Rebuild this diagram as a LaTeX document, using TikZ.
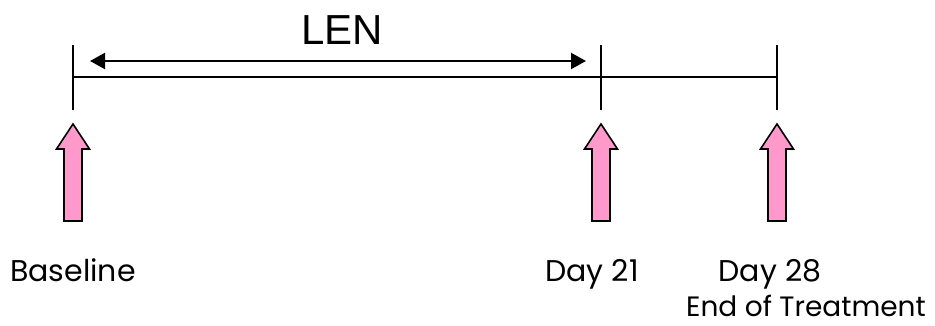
\documentclass[tikz,border=0pt]{standalone}
\usepackage{fontspec}
\setmainfont{Poppins}
\newfontfamily\arialfont{Liberation Sans}
\usetikzlibrary{arrows.meta}
\definecolor{pinkfill}{RGB}{255,153,204}
\begin{document}
\begin{tikzpicture}[x=1pt,y=-1pt,
  tl/.style={line width=1.6pt},
  lenarrow/.style={line width=2.2pt,{Triangle[length=15pt,width=16pt]}-{Triangle[length=15pt,width=16pt]}},
  pinkarrow/.style={draw=black,line width=1.6pt,fill=pinkfill,line join=miter},
  lbl/.style={font=\fontsize{30}{34}\selectfont,inner sep=0pt,anchor=base}]
\useasboundingbox (0,0) rectangle (935,325);
\coordinate (t0) at (73,77);
\coordinate (t1) at (601,77);
\coordinate (t2) at (777,77);
\draw[tl] (t0) -- (t2);
\foreach \p in {t0,t1,t2}{\draw[tl] ([yshift=-33pt]\p) -- ([yshift=32pt]\p);}
\coordinate (la) at (90,61);
\coordinate (lb) at (586,61);
\draw[lenarrow] (la) -- (lb);
\node[font=\arialfont\fontsize{42}{46}\selectfont,inner sep=0pt] (len) at (342,30) {LEN};
\foreach \x in {73,601,777}{
  \draw[pinkarrow] (\x,124) -- (\x+16.5,149) -- (\x+9,149) -- (\x+9,221) -- (\x-9,221) -- (\x-9,149) -- (\x-16.5,149) -- cycle;
}
\node[lbl] (b0) at (73,281) {Baseline};
\node[lbl] (b1) at (592,281) {Day 21};
\node[lbl] (b2) at (770,281) {Day 28};
\node[lbl,font=\fontsize{28}{32}\selectfont] (b3) at (806,316) {End of Treatment};
\end{tikzpicture}
\end{document}
